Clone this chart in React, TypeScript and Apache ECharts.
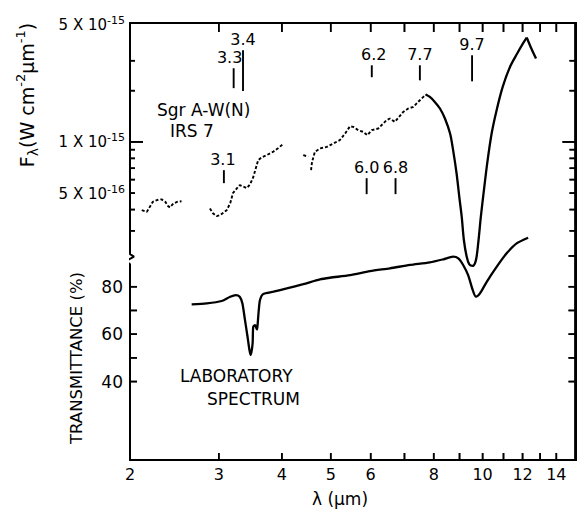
import React, { useEffect, useRef } from 'react';
import * as echarts from 'echarts';

const FONT = 'DejaVu Sans';
const LOG = (v: number) => Math.log10(v);

// ---- axes ----
const X_MIN = 2;
const X_MAX = 15.28;
const xTickValues = [3, 4, 5, 6, 7, 8, 9, 10, 11, 12, 13, 14];
const xLabelValues = [2, 3, 4, 5, 6, 8, 10, 12, 14];

// flux in units of 1e-16 W cm^-2 um^-1
const F_MIN = 0.1348;
const F_MAX = 50;
const fluxTickValues = [3, 4, 5, 6, 7, 8, 9, 20, 30];
const fluxMajorTick = [10];
const fluxLabelValues = [50, 10, 5];
const fluxLabelMant = ['5', '1', '5'];
const fluxLabelExp = ['-15', '-15', '-16'];

const T_MIN = 6.9;
const T_MAX = 191.3;
const T_BREAK = 92.5;
const transTickLeft = [40, 50, 60, 70, 80];
const transTickRight = [40, 50, 60, 70, 80, 93];
const transLabelValues = [40, 60, 80];

// ---- observed spectrum (dotted segments) ----
const seg1Lam = [2.11, 2.16, 2.22, 2.28, 2.31, 2.35, 2.38, 2.40, 2.44, 2.48, 2.53];
const seg1Flux = [3.97, 3.88, 4.44, 4.59, 4.59, 4.44, 4.19, 4.12, 4.35, 4.44, 4.48];

const seg2Lam = [2.88, 2.92, 2.97, 3.02, 3.11, 3.16, 3.20, 3.26, 3.30, 3.41, 3.46, 3.51, 3.59, 3.65, 3.73, 3.84, 3.93, 4.02];
const seg2Flux = [4.06, 3.81, 3.66, 3.71, 3.97, 4.36, 5.00, 5.35, 5.57, 5.35, 5.64, 6.20, 7.81, 8.13, 8.35, 8.73, 9.18, 9.69];

const seg3aLam = [4.41, 4.51];
const seg3aFlux = [8.35, 8.2];

const seg3Lam = [4.57, 4.59, 4.65, 4.76, 4.91, 5.06, 5.21, 5.34, 5.46, 5.54, 5.67, 5.80, 5.91, 6.03, 6.21, 6.45, 6.55, 6.70, 6.96, 7.12, 7.29, 7.45, 7.63, 7.71];
const seg3Flux = [6.82, 7.60, 8.73, 9.15, 9.35, 9.79, 10.23, 11.20, 12.36, 12.25, 11.72, 11.45, 10.95, 11.72, 11.99, 13.41, 13.72, 13.11, 15.00, 15.71, 16.06, 17.18, 18.38, 18.99];

// ---- smooth curve (up to the cusp, then after it) ----
const modelALam = [7.71, 7.86, 8.04, 8.23, 8.42, 8.62, 8.74, 8.88, 8.99, 9.09, 9.18, 9.30, 9.41, 9.56, 9.70, 9.80, 9.92, 10.06, 10.21, 10.42, 10.66, 10.96, 11.33, 11.71, 12.04, 12.23];
const modelAFlux = [18.99, 18.38, 17.18, 15.71, 13.72, 11.20, 8.94, 6.52, 4.75, 3.63, 2.65, 2.11, 1.905, 1.868, 2.018, 2.53, 3.63, 5.20, 7.46, 11.20, 15.36, 21.04, 27.59, 33.07, 38.17, 41.06];
const modelBLam = [12.23, 12.45, 12.76];
const modelBFlux = [41.06, 36.15, 30.90];

// ---- laboratory transmittance (%) ----
const labLam = [2.65, 2.84, 3.04, 3.16, 3.24, 3.30, 3.34, 3.38, 3.42, 3.45, 3.47, 3.50, 3.51, 3.54, 3.57, 3.58, 3.60, 3.62, 3.67, 3.85, 4.09, 4.41, 4.76, 4.98, 5.46, 5.98, 6.55, 7.18, 7.86, 8.36, 8.74, 8.95, 9.15, 9.36, 9.56, 9.70, 9.88, 10.19, 10.66, 11.16, 11.68, 12.31];
const labTrans = [72.6, 73.0, 74.0, 75.8, 76.5, 75.8, 73.0, 66.0, 58.9, 53.3, 51.2, 56.1, 63.1, 63.8, 62.0, 63.8, 70.2, 74.4, 76.9, 77.9, 79.3, 81.1, 83.1, 83.8, 84.9, 86.6, 87.8, 89.2, 90.3, 91.6, 92.7, 92.0, 89.2, 84.9, 78.6, 75.8, 77.2, 82.1, 88.4, 94.1, 98.3, 100.7];

// ---- feature markers ----
const annotLabels = ['3.3', '3.4', '3.1', '6.2', '7.7', '9.7', '6.0', '6.8'];
const annotLambda = [3.21, 3.35, 3.07, 6.03, 7.51, 9.53, 5.89, 6.72];
const annotTop = [27.1, 34.6, 6.82, 28.2, 28.2, 32.3, 6.12, 6.12];
const annotBottom = [20.7, 19.9, 5.72, 24.0, 23.0, 22.7, 4.93, 4.93];
const annotDx = [-4, 0, -1, 2, 0, 0, 0, 0];

const xy = (lam: number[], val: number[], f: (v: number) => number) =>
  lam.map((l, i) => [LOG(l), f(val[i])]);

export default function App() {
  const ref = useRef<HTMLDivElement>(null);
  useEffect(() => {
    if (!ref.current) return;
    const chart = echarts.init(ref.current, undefined, { renderer: 'svg' });
    const black = '#000';
    const dotted = { color: black, width: 1.9, type: [3, 2] as any };
    const solid = { color: black, width: 2.3 };
    const XL = LOG(X_MIN);
    const XR = LOG(X_MAX);
    const YB = LOG(F_MIN);
    const YT = LOG(F_MAX);

    const frameLine = { show: true, onZero: false, lineStyle: { color: black, width: 2 } };

    const dataSeries: any[] = [
      { type: 'line', xAxisIndex: 0, yAxisIndex: 0, symbol: 'none', lineStyle: dotted, data: xy(seg1Lam, seg1Flux, LOG) },
      { type: 'line', xAxisIndex: 0, yAxisIndex: 0, symbol: 'none', lineStyle: dotted, data: xy(seg2Lam, seg2Flux, LOG) },
      { type: 'line', xAxisIndex: 0, yAxisIndex: 0, symbol: 'none', lineStyle: dotted, data: xy(seg3aLam, seg3aFlux, LOG) },
      { type: 'line', xAxisIndex: 0, yAxisIndex: 0, symbol: 'none', lineStyle: dotted, data: xy(seg3Lam, seg3Flux, LOG) },
      { type: 'line', xAxisIndex: 0, yAxisIndex: 0, symbol: 'none', smooth: 0.3, lineStyle: solid, data: xy(modelALam, modelAFlux, LOG) },
      { type: 'line', xAxisIndex: 0, yAxisIndex: 0, symbol: 'none', smooth: 0.2, lineStyle: solid, data: xy(modelBLam, modelBFlux, LOG) },
      { type: 'line', xAxisIndex: 0, yAxisIndex: 2, symbol: 'none', smooth: 0.25, lineStyle: solid, data: xy(labLam, labTrans, (v) => v) },
    ];

    const option: any = {
      animation: false,
      grid: { left: 130, right: 1.5, top: 23, bottom: 50, show: true, borderColor: black, borderWidth: 2 },
      xAxis: [
        { type: 'value', min: XL, max: XR, position: 'bottom', splitLine: { show: false }, axisLine: frameLine, axisTick: { show: false }, axisLabel: { show: false } },
        { type: 'value', min: XL, max: XR, position: 'top', splitLine: { show: false }, axisLine: frameLine, axisTick: { show: false }, axisLabel: { show: false } },
      ],
      yAxis: [
        { type: 'value', min: YB, max: YT, position: 'right', splitLine: { show: false }, axisLine: frameLine, axisTick: { show: false }, axisLabel: { show: false } },
        { type: 'value', min: YB, max: YT, position: 'left', splitLine: { show: false }, axisLine: { show: false }, axisTick: { show: false }, axisLabel: { show: false } },
        { type: 'value', min: T_MIN, max: T_MAX, position: 'left', splitLine: { show: false }, axisLine: { show: false }, axisTick: { show: false }, axisLabel: { show: false } },
      ],
      series: dataSeries,
    };
    chart.setOption(option);

    const fp = (x: number, y: number) => chart.convertToPixel({ xAxisIndex: 0, yAxisIndex: 0 }, [x, y]) as number[];
    const tp = (x: number, y: number) => chart.convertToPixel({ xAxisIndex: 0, yAxisIndex: 2 }, [x, y]) as number[];
    const lb = fp(XL, YB);
    const rt = fp(XR, YT);
    const pxX = (rt[0] - lb[0]) / (XR - XL);
    const pxF = (lb[1] - rt[1]) / (YT - YB);
    const pxT = (lb[1] - rt[1]) / (T_MAX - T_MIN);

    // ticks, broken left axis and feature markers as line series in data space
    const segs: any[] = [];
    const segment = (pts: number[][], axis: number, w = 1.6) => segs.push({
      type: 'line', xAxisIndex: 0, yAxisIndex: axis, data: pts, symbol: 'none', clip: false,
      lineStyle: { color: black, width: w },
    });
    // white gap in the left axis, then the break mark
    segs.push({
      type: 'line', xAxisIndex: 0, yAxisIndex: 2, symbol: 'none', clip: false, z: 4,
      data: [[XL, T_BREAK + 6.5 / pxT], [XL, T_BREAK - 6.5 / pxT]],
      lineStyle: { color: '#fff', width: 4 },
    });
    segs.push({
      type: 'line', xAxisIndex: 0, yAxisIndex: 2, symbol: 'none', clip: false, z: 5,
      data: [
        [XL, T_BREAK + 7.5 / pxT], [XL, T_BREAK + 3 / pxT], [XL + 4 / pxX, T_BREAK + 0.5 / pxT],
        [XL - 4 / pxX, T_BREAK - 4 / pxT], [XL, T_BREAK - 7 / pxT], [XL, T_BREAK - 7.5 / pxT],
      ],
      lineStyle: { color: black, width: 2 },
    });
    segment([[XL - 1 / pxX, YT], [XR + 1 / pxX, YT]], 0, 2);
    segment([[XR, YT], [XR, YB]], 0, 2);
    xTickValues.forEach((v) => {
      segment([[LOG(v), YB], [LOG(v), YB + 7 / pxF]], 0);
      segment([[LOG(v), YT], [LOG(v), YT - 9 / pxF]], 0);
    });
    fluxTickValues.forEach((v) => {
      segment([[XL, LOG(v)], [XL + 5 / pxX, LOG(v)]], 0);
      segment([[XR, LOG(v)], [XR - 6 / pxX, LOG(v)]], 0);
    });
    fluxMajorTick.forEach((v) => {
      segment([[XL, LOG(v)], [XL + 13 / pxX, LOG(v)]], 0, 1.8);
      segment([[XR, LOG(v)], [XR - 13 / pxX, LOG(v)]], 0, 1.8);
    });
    transTickLeft.forEach((v) => segment([[XL, v], [XL + 7 / pxX, v]], 2));
    transTickRight.forEach((v) => segment([[XR, v], [XR - 7 / pxX, v]], 2));
    annotLambda.forEach((l, i) => segment([[LOG(l), LOG(annotTop[i])], [LOG(l), LOG(annotBottom[i])]], 0, 1.9));

    // the same ticks and frame as graphic lines on the top layer
    const g: any[] = [];
    const gl = (x1: number, y1: number, x2: number, y2: number, w = 1.6) => g.push({
      type: 'line', zlevel: 5, z: 100, shape: { x1, y1, x2, y2 }, style: { stroke: black, lineWidth: w },
    });
    gl(lb[0] - 1, rt[1], rt[0] + 1, rt[1], 2);
    gl(rt[0], rt[1], rt[0], lb[1], 2);
    gl(lb[0] - 1, lb[1], rt[0] + 1, lb[1], 2);
    xTickValues.forEach((v) => {
      const b = fp(LOG(v), YB);
      const t = fp(LOG(v), YT);
      gl(b[0], b[1], b[0], b[1] - 7);
      gl(t[0], t[1], t[0], t[1] + 9);
    });
    fluxTickValues.forEach((v) => {
      const l = fp(XL, LOG(v));
      const r = fp(XR, LOG(v));
      gl(l[0], l[1], l[0] + 5, l[1]);
      gl(r[0], r[1], r[0] - 6, r[1]);
    });
    fluxMajorTick.forEach((v) => {
      const l = fp(XL, LOG(v));
      const r = fp(XR, LOG(v));
      gl(l[0], l[1], l[0] + 13, l[1], 1.8);
      gl(r[0], r[1], r[0] - 13, r[1], 1.8);
    });
    transTickLeft.forEach((v) => {
      const l = tp(XL, v);
      gl(l[0], l[1], l[0] + 7, l[1]);
    });
    transTickRight.forEach((v) => {
      const r = tp(XR, v);
      gl(r[0], r[1], r[0] - 7, r[1]);
    });

    // texts
    const txt = (x: number, y: number, text: string, size: number, align = 'left', rotation = 0, va = 'middle') => ({
      type: 'text', x, y, rotation,
      style: { text, fill: black, fontSize: size, fontFamily: FONT, align, verticalAlign: va },
    });
    annotLambda.forEach((l, i) => {
      const p = fp(LOG(l), LOG(annotTop[i]));
      g.push(txt(p[0] + annotDx[i], p[1] - 3, annotLabels[i], 16, 'center', 0, 'bottom'));
    });
    xLabelValues.forEach((v) => {
      const b = fp(LOG(v), YB);
      g.push(txt(b[0], b[1] + 14, String(v), 16, 'center'));
    });
    fluxLabelValues.forEach((v, i) => {
      const l = fp(XL, LOG(v));
      g.push({
        type: 'text', x: l[0] - 5, y: l[1] + (i === 0 ? 2 : 0.5),
        style: {
          text: `{m|${fluxLabelMant[i]} X 10}{s|${fluxLabelExp[i]}}`,
          align: 'right', verticalAlign: 'middle', fill: black, fontFamily: FONT,
          rich: {
            m: { fontSize: 15, fontFamily: FONT, fill: black, lineHeight: 20, verticalAlign: 'middle' },
            s: { fontSize: 11, fontFamily: FONT, fill: black, lineHeight: 20, verticalAlign: 'top' },
          },
        },
      });
    });
    transLabelValues.forEach((v) => {
      const l = tp(XL, v);
      g.push(txt(l[0] - 7, l[1], String(v), 17, 'right'));
    });
    g.push({
      type: 'text', x: 27, y: 95, rotation: Math.PI / 2,
      style: {
        text: '{m|F}{b|λ}{m|(W cm}{p|-2}{m|μm}{p|-1}{m|)}',
        align: 'center', verticalAlign: 'middle', fill: black, fontFamily: FONT,
        rich: {
          m: { fontSize: 19, fontFamily: FONT, fill: black, lineHeight: 26, verticalAlign: 'middle' },
          b: { fontSize: 14, fontFamily: FONT, fill: black, lineHeight: 26, verticalAlign: 'bottom' },
          p: { fontSize: 13, fontFamily: FONT, fill: black, lineHeight: 26, verticalAlign: 'top' },
        },
      },
    });
    g.push(txt(76, 358, 'TRANSMITTANCE (%)', 16.5, 'center', Math.PI / 2));
    g.push(txt(340, 499, 'λ (μm)', 17, 'center'));
    g.push(txt(157, 110, 'Sgr A-W(N)', 17));
    g.push(txt(170, 130.5, 'IRS 7', 17));
    g.push(txt(180, 375.5, 'LABORATORY', 17));
    g.push(txt(207, 398.5, 'SPECTRUM', 17));

    chart.setOption({ series: [...dataSeries, ...segs], graphic: g });
    return () => chart.dispose();
  }, []);
  return (
    <div ref={ref} style={{ position: 'fixed', left: 0, top: 0, width: 577, height: 510, background: '#fff' }} />
  );
}
